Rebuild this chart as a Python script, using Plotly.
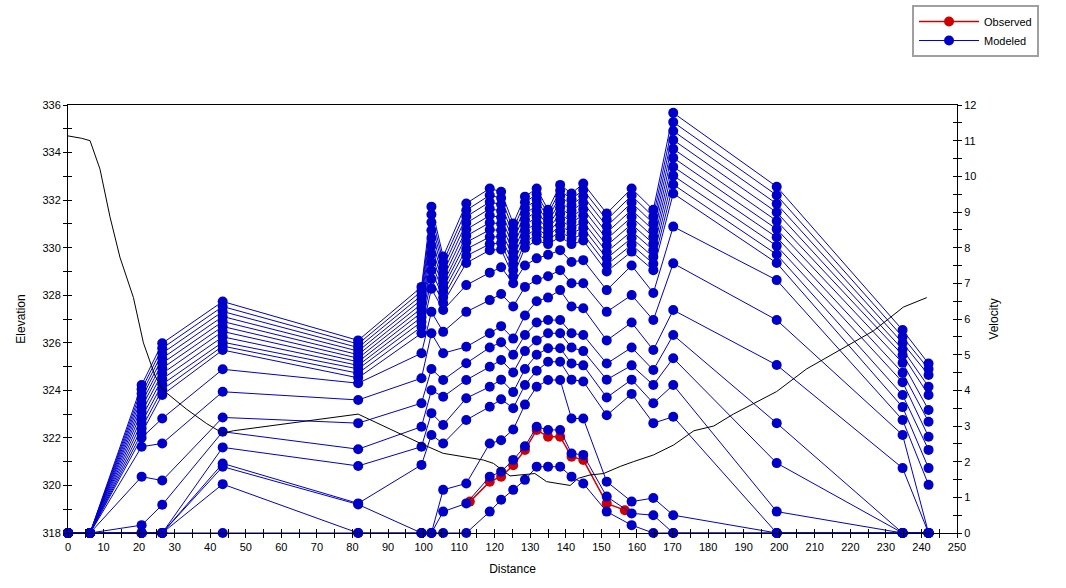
import plotly.graph_objects as go

# Cross-section stations (distance along section)
station_x = [0, 6.2, 20.7, 26.5, 43.5, 81.6, 99.4, 102.2, 105.5, 112, 118.6, 121.8,
             125.2, 128.5, 131.8, 135, 138.4, 141.6, 144.9, 151.5, 158.5, 164.6,
             170.2, 199.3, 234.7, 242]

# Modeled velocity at each station, one value per flow (highest flow first)
v_000 = [0, 0, 0, 0, 0, 0, 0, 0, 0, 0, 0, 0, 0, 0, 0, 0, 0, 0, 0, 0]
v_006 = [0, 0, 0, 0, 0, 0, 0, 0, 0, 0, 0, 0, 0, 0, 0, 0, 0, 0, 0, 0]
v_021 = [4.15, 4.03, 3.91, 3.79, 3.66, 3.53, 3.39, 3.24, 3.09, 2.94, 2.80, 2.67, 2.42, 1.58, 0.22, 0, 0, 0, 0, 0]
v_027 = [5.32, 5.18, 5.04, 4.90, 4.76, 4.62, 4.47, 4.32, 4.17, 4.02, 3.87, 3.21, 2.51, 1.47, 0.79, 0, 0, 0, 0, 0]
v_044 = [6.49, 6.35, 6.21, 6.07, 5.93, 5.79, 5.65, 5.50, 5.35, 5.24, 5.13, 4.59, 3.96, 3.24, 2.84, 2.40, 1.95, 1.86, 1.37, 0]
v_082 = [5.40, 5.30, 5.20, 5.10, 5.00, 4.90, 4.80, 4.70, 4.60, 4.48, 4.35, 4.20, 3.73, 3.08, 2.35, 1.88, 0.83, 0.80, 0, 0]
v_099 = [6.90, 6.78, 6.66, 6.54, 6.42, 6.30, 6.18, 6.05, 5.92, 5.78, 5.60, 5.04, 4.34, 3.64, 2.98, 2.42, 1.91, 0, 0, 0]
v_102 = [9.15, 8.93, 8.71, 8.49, 8.27, 8.05, 7.82, 7.59, 7.36, 7.12, 6.85, 6.20, 5.60, 4.60, 4.00, 3.36, 2.75, 0, 0, 0]
v_106 = [7.75, 7.60, 7.45, 7.30, 7.15, 7.00, 6.88, 6.75, 6.60, 6.45, 6.25, 5.64, 5.04, 4.29, 3.82, 3.03, 2.51, 1.21, 0.60, 0]
v_112 = [9.24, 9.05, 8.87, 8.69, 8.51, 8.33, 8.15, 7.96, 7.77, 7.57, 6.95, 6.20, 5.22, 4.76, 4.29, 3.78, 3.17, 1.39, 0.83, 0]
v_119 = [9.66, 9.47, 9.28, 9.09, 8.90, 8.70, 8.50, 8.30, 8.10, 7.93, 7.30, 6.53, 5.60, 5.20, 4.66, 4.10, 3.54, 2.51, 1.58, 0.60]
v_122 = [9.57, 9.39, 9.21, 9.03, 8.85, 8.67, 8.49, 8.31, 8.13, 7.95, 7.45, 6.70, 5.80, 5.35, 4.85, 4.30, 3.75, 2.60, 1.72, 0.93]
v_125 = [8.68, 8.52, 8.36, 8.20, 8.04, 7.88, 7.72, 7.55, 7.37, 7.19, 7.00, 6.35, 5.45, 5.00, 4.50, 3.95, 3.50, 2.90, 2.05, 1.21]
v_129 = [9.43, 9.27, 9.11, 8.95, 8.79, 8.63, 8.47, 8.31, 8.15, 8.00, 7.50, 6.90, 6.10, 5.55, 5.10, 4.60, 4.15, 3.60, 2.43, 1.49]
v_132 = [9.66, 9.50, 9.34, 9.18, 9.02, 8.86, 8.70, 8.54, 8.37, 8.20, 7.70, 7.10, 6.50, 5.90, 5.40, 5.00, 4.55, 4.10, 2.98, 1.86]
v_135 = [9.06, 8.95, 8.84, 8.73, 8.62, 8.52, 8.42, 8.32, 8.21, 8.10, 7.80, 7.20, 6.60, 5.97, 5.60, 5.18, 4.80, 4.29, 2.89, 1.86]
v_138 = [9.76, 9.60, 9.44, 9.28, 9.12, 8.95, 8.79, 8.63, 8.46, 8.30, 7.93, 7.37, 6.81, 5.97, 5.60, 5.18, 4.80, 4.29, 2.89, 1.86]
v_142 = [9.52, 9.36, 9.20, 9.04, 8.88, 8.72, 8.56, 8.41, 8.25, 8.10, 7.60, 7.00, 6.35, 5.60, 5.20, 4.75, 4.30, 3.21, 2.23, 1.58]
v_145 = [9.80, 9.62, 9.44, 9.26, 9.08, 8.90, 8.72, 8.55, 8.38, 8.20, 7.65, 7.00, 6.30, 5.55, 5.10, 4.70, 4.25, 3.21, 2.19, 1.39]
v_152 = [8.96, 8.78, 8.60, 8.42, 8.24, 8.06, 7.88, 7.70, 7.52, 7.33, 6.81, 6.20, 5.40, 4.75, 4.30, 3.80, 3.30, 1.44, 1.02, 0.60]
v_159 = [9.66, 9.46, 9.26, 9.06, 8.86, 8.66, 8.46, 8.27, 8.08, 7.89, 7.50, 6.67, 5.90, 5.20, 4.70, 4.30, 3.90, 0.88, 0.55, 0.22]
v_165 = [9.06, 8.87, 8.68, 8.49, 8.30, 8.11, 7.93, 7.74, 7.55, 7.37, 6.73, 5.97, 5.13, 4.57, 4.15, 3.64, 3.08, 0.98, 0.50, 0]
v_170 = [11.78, 11.52, 11.27, 11.02, 10.77, 10.52, 10.27, 10.02, 9.77, 9.52, 8.59, 7.56, 6.25, 5.55, 4.90, 4.15, 3.26, 0.50, 0, 0]
v_199 = [9.71, 9.47, 9.23, 8.99, 8.75, 8.52, 8.29, 8.05, 7.81, 7.57, 7.09, 5.97, 4.71, 3.08, 1.96, 0.60, 0, 0, 0, 0]
v_235 = [5.69, 5.50, 5.33, 5.15, 4.99, 4.77, 4.49, 4.23, 3.87, 3.53, 3.17, 2.75, 1.82, 0, 0, 0, 0, 0, 0, 0]
v_242 = [4.75, 4.60, 4.43, 4.10, 3.87, 3.45, 3.12, 2.70, 2.33, 1.82, 1.35, 0, 0, 0, 0, 0, 0, 0, 0, 0]

station_velocities = [v_000, v_006, v_021, v_027, v_044, v_082, v_099, v_102, v_106,
                      v_112, v_119, v_122, v_125, v_129, v_132, v_135, v_138, v_142,
                      v_145, v_152, v_159, v_165, v_170, v_199, v_235, v_242]

# Observed velocities
obs_x = [113, 118.6, 121.8, 125.2, 128.5, 131.8, 135, 138.4, 141.6, 144.9, 151.5, 156.6]
obs_v = [0.88, 1.44, 1.58, 1.90, 2.33, 2.89, 2.70, 2.70, 2.14, 2.05, 0.83, 0.64]

# Ground profile (elevation)
ground_x = [0, 3.8, 6.2, 9, 11.8, 14.6, 18.4, 21.2, 24.5, 26.8, 33.4, 39, 43.5, 46.5,
            81.6, 91.5, 99.4, 105.5, 116.8, 119.6, 124.3, 127.1, 131.3, 134.6, 141.2,
            143.5, 146.8, 150.6, 155.3, 159, 164.6, 170.3, 176, 181.6, 187.1, 199.3,
            207.7, 217.1, 226.5, 234.9, 241.5]
ground_z = [334.7, 334.6, 334.5, 333.3, 331.3, 329.6, 327.9, 326.0, 324.6, 324.0, 323.2,
            322.6, 322.2, 322.3, 323.0, 322.3, 321.75, 321.35, 321.07, 320.93, 320.4,
            320.44, 320.5, 320.16, 320.0, 320.3, 320.44, 320.5, 320.8, 321.0, 321.28,
            321.7, 322.3, 322.5, 323.0, 323.95, 324.9, 325.7, 326.5, 327.5, 327.9]

BLUE = "#0000C8"
RED = "#D00000"
FONT = "Liberation Sans, Arial, sans-serif"

fig = go.Figure()

# Observed (drawn first so modeled markers sit on top)
fig.add_trace(go.Scatter(
    x=obs_x, y=obs_v, yaxis="y", mode="lines+markers", name="Observed",
    line=dict(color=RED, width=1.5), marker=dict(color=RED, size=10),
    cliponaxis=False))

n_flows = len(v_000)
for k in range(n_flows):
    fig.add_trace(go.Scatter(
        x=station_x, y=[col[k] for col in station_velocities], yaxis="y",
        mode="lines+markers", name="Modeled", legendgroup="modeled",
        showlegend=(k == 0),
        line=dict(color=BLUE, width=1), marker=dict(color=BLUE, size=10),
        cliponaxis=False))

# Ground line on the elevation axis
fig.add_trace(go.Scatter(
    x=ground_x, y=ground_z, yaxis="y2", mode="lines", showlegend=False,
    line=dict(color="black", width=1)))

# Inner halves of the crossing tick marks
fig.add_trace(go.Scatter(x=[None], y=[None], xaxis="x2", yaxis="y3", showlegend=False))
fig.add_trace(go.Scatter(x=[None], y=[None], xaxis="x", yaxis="y4", showlegend=False))

tickfont = dict(family=FONT, size=11, color="black")
common = dict(showgrid=False, zeroline=False, tickfont=tickfont, tickcolor="black",
              ticklen=4, tickwidth=1)

fig.update_layout(
    width=1066, height=588,
    margin=dict(l=68, r=109, t=105, b=55, autoexpand=False),
    paper_bgcolor="white", plot_bgcolor="white",
    font=dict(family=FONT, size=11, color="black"),
    showlegend=True,
    legend=dict(x=0.9494, y=1.2336, xanchor="left", yanchor="top",
                bordercolor="#A0A0A0", borderwidth=2, bgcolor="white",
                font=dict(family=FONT, size=11, color="black"),
                tracegroupgap=0, itemwidth=60),
    xaxis=dict(range=[0, 250], dtick=10, tick0=0, ticks="outside",
               minor=dict(dtick=5, ticks="outside", ticklen=4, tickcolor="black"),
               showline=True, linecolor="black", linewidth=1, mirror=True,
               title=dict(text="Distance", font=dict(family=FONT, size=12), standoff=12),
               **common),
    xaxis2=dict(range=[0, 250], overlaying="x", anchor="y", side="bottom",
                dtick=5, ticks="inside", showticklabels=False, showline=False,
                showgrid=False, zeroline=False, ticklen=4, tickcolor="black"),
    yaxis=dict(range=[0, 12], dtick=1, tick0=0, side="right", anchor="x",
               ticks="outside",
               minor=dict(dtick=0.5, ticks="outside", ticklen=4, tickcolor="black"),
               showline=True, linecolor="black", linewidth=1,
               title=dict(text="Velocity", font=dict(family=FONT, size=12), standoff=14),
               **common),
    yaxis2=dict(range=[318, 336], dtick=2, tick0=318, side="left", anchor="x",
                overlaying="y", ticks="outside",
                minor=dict(dtick=1, ticks="outside", ticklen=4, tickcolor="black"),
                showline=True, linecolor="black", linewidth=1,
                title=dict(text="Elevation", font=dict(family=FONT, size=12), standoff=14),
                **common),
    yaxis3=dict(range=[0, 12], overlaying="y", side="right", anchor="x",
                dtick=0.5, ticks="inside", showticklabels=False, showline=False,
                showgrid=False, zeroline=False, ticklen=4, tickcolor="black"),
    yaxis4=dict(range=[318, 336], overlaying="y", side="left", anchor="x",
                dtick=1, ticks="inside", showticklabels=False, showline=False,
                showgrid=False, zeroline=False, ticklen=4, tickcolor="black"),
)

fig.write_html("out.html")
